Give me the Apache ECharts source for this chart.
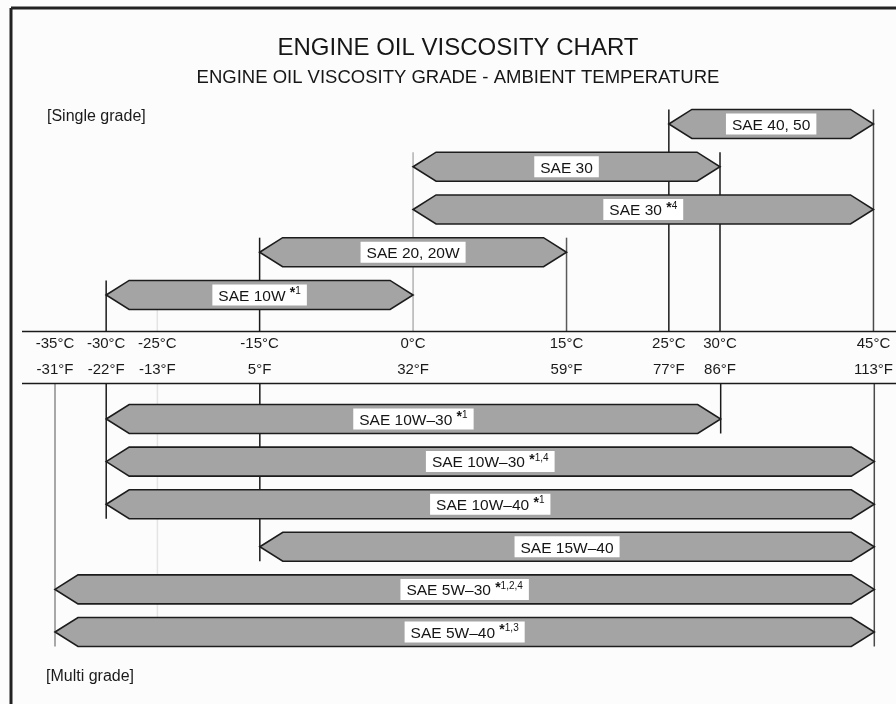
<!DOCTYPE html>
<html>
<head>
<meta charset="utf-8">
<script src="https://cdn.jsdelivr.net/npm/echarts@6/dist/echarts.min.js"></script>
<style>
  html, body { margin: 0; padding: 0; background: #fcfcfc; }
  #chart { width: 896px; height: 704px; }
</style>
</head>
<body>
<div id="chart"></div>
<script>
// Temperature scale (°C ticks and their °F equivalents)
const tempC = [-35, -30, -25, -15, 0, 15, 25, 30, 45];
const tempF = ['-31°F', '-22°F', '-13°F', '5°F', '32°F', '59°F', '77°F', '86°F', '113°F'];
// stroke tone of the vertical guide at each temperature
const guideTone = ['#8c8c8c', '#1a1a1a', '#e4e4e4', '#1a1a1a', '#b2b2b2', '#5a5a5a', '#1a1a1a', '#1a1a1a', '#4a4a4a'];

// Single grade oils: usable ambient range in °C
const singleGrades = ['SAE 40, 50', 'SAE 30', 'SAE 30', 'SAE 20, 20W', 'SAE 10W'];
const singleNotes = ['', '', '4', '', '1'];
const singleFrom = [25, 0, 0, -15, -30];
const singleTo = [45, 30, 45, 15, 0];

// Multi grade oils: usable ambient range in °C
const multiGrades = ['SAE 10W–30', 'SAE 10W–30', 'SAE 10W–40', 'SAE 15W–40', 'SAE 5W–30', 'SAE 5W–40'];
const multiNotes = ['1', '1,4', '1', '', '1,2,4', '1,3'];
const multiFrom = [-30, -30, -30, -15, -35, -35];
const multiTo = [30, 45, 45, 45, 45, 45];

const FONT = "'Liberation Sans', Arial, Helvetica, sans-serif";
const TIP = 23;          // horizontal depth of the arrow heads
const BAR_RATIO = 0.68;  // bar thickness relative to the row band

function rowNames(list) { return list.map((_, i) => 'r' + i); }

function labelText(name, note) {
  return note ? `{t|${name} }{a|*}{s|${note}}` : `{t|${name}}`;
}

function makeArrowRenderer(names, notes) {
  return function (params, api) {
    const row = api.value(2);
    const p0 = api.coord([api.value(0), row]);
    const p1 = api.coord([api.value(1), row]);
    const h = api.size([0, 1])[1] * BAR_RATIO / 2;
    const cy = p0[1];
    const x0 = p0[0], x1 = p1[0];
    return {
      type: 'group',
      children: [
        {
          type: 'polygon',
          shape: { points: [[x0, cy], [x0 + TIP, cy - h], [x1 - TIP, cy - h], [x1, cy], [x1 - TIP, cy + h], [x0 + TIP, cy + h]] },
          style: { fill: '#a4a4a4', stroke: '#1c1c1c', lineWidth: 1.6 }
        },
        {
          type: 'text',
          x: (x0 + x1) / 2,
          y: cy,
          style: {
            text: labelText(names[params.dataIndex], notes[params.dataIndex]),
            align: 'center',
            verticalAlign: 'middle',
            backgroundColor: '#ffffff',
            padding: [2, 6, 1, 6],
            rich: {
              t: { fontFamily: FONT, fontSize: 15.5, lineHeight: 18, fill: '#151515', verticalAlign: 'bottom' },
              a: { fontFamily: FONT, fontSize: 14, fontWeight: 'bold', lineHeight: 12, fill: '#151515', verticalAlign: 'top' },
              s: { fontFamily: FONT, fontSize: 10, lineHeight: 10, fill: '#151515', verticalAlign: 'top' }
            }
          }
        }
      ]
    };
  };
}

// vertical guides: from each range end in the upper block down to the scale,
// and from the scale down to the lowest multi grade bar ending there;
// a temperature no range ends at gets a faint guide through both blocks
function guideData(from, to, pickLast, otherFrom, otherTo) {
  const out = [];
  tempC.forEach((t, i) => {
    let rows = [];
    from.forEach((v, r) => { if (v === t || to[r] === t) rows.push(r); });
    if (!rows.length) {
      if (otherFrom.includes(t) || otherTo.includes(t)) return;
      rows = [from.length - 1];
    }
    const row = pickLast ? rows[rows.length - 1] : rows[0];
    out.push([t, row, i]);
  });
  return out;
}

function makeGuideRenderer(upper) {
  return function (params, api) {
    const p = api.coord([api.value(0), api.value(1)]);
    const h = api.size([0, 1])[1] * BAR_RATIO / 2;
    const cs = params.coordSys;
    const y1 = upper ? p[1] - h : cs.y - 14;
    const y2 = upper ? cs.y + cs.height + 15 : p[1] + h;
    return {
      type: 'line',
      shape: { x1: p[0], y1: y1, x2: p[0], y2: y2 },
      style: { stroke: guideTone[api.value(2)], lineWidth: 1.5 }
    };
  };
}

const chart = echarts.init(document.getElementById('chart'), null, { renderer: 'canvas' });

const option = {
  backgroundColor: '#fcfcfc',
  animation: false,
  title: {
    text: 'ENGINE OIL VISCOSITY CHART',
    subtext: 'ENGINE OIL VISCOSITY GRADE - AMBIENT TEMPERATURE',
    left: 458,
    textAlign: 'center',
    top: 36,
    padding: 0,
    itemGap: 8,
    textStyle: { fontFamily: FONT, fontSize: 24, fontWeight: 'normal', color: '#161616' },
    subtextStyle: { fontFamily: FONT, fontSize: 18.5, color: '#161616' }
  },
  grid: [
    { left: 55, right: 21.7, top: 102.6, height: 213.75 },
    { left: 55, right: 21.7, top: 397.7, height: 255.6 }
  ],
  xAxis: [
    {
      gridIndex: 0, type: 'value', min: -35, max: 45, position: 'bottom', offset: 15,
      axisLine: { show: false }, axisTick: { show: false }, splitLine: { show: false },
      axisLabel: {
        customValues: tempC,
        margin: 0,
        formatter: v => `{c|${v}°C}\n{f|${tempF[tempC.indexOf(v)]}}`,
        rich: {
          c: { fontFamily: FONT, fontSize: 15, lineHeight: 26, color: '#1a1a1a' },
          f: { fontFamily: FONT, fontSize: 15, lineHeight: 26, color: '#1a1a1a' }
        }
      }
    },
    {
      gridIndex: 1, type: 'value', min: -35, max: 45, position: 'top',
      axisLine: { show: false }, axisTick: { show: false }, splitLine: { show: false }, axisLabel: { show: false }
    }
  ],
  yAxis: [
    { gridIndex: 0, type: 'category', inverse: true, data: rowNames(singleGrades), show: false },
    { gridIndex: 1, type: 'category', inverse: true, data: rowNames(multiGrades), show: false }
  ],
  graphic: [
    { type: 'line', shape: { x1: 11, y1: 8, x2: 896, y2: 8 }, style: { stroke: '#222', lineWidth: 3 }, z: 10 },
    { type: 'line', shape: { x1: 11, y1: 8, x2: 11, y2: 704 }, style: { stroke: '#222', lineWidth: 3 }, z: 10 },
    { type: 'line', shape: { x1: 22, y1: 331.5, x2: 896, y2: 331.5 }, style: { stroke: '#1a1a1a', lineWidth: 1.5 }, z: 10 },
    { type: 'line', shape: { x1: 22, y1: 383.5, x2: 896, y2: 383.5 }, style: { stroke: '#1a1a1a', lineWidth: 1.5 }, z: 10 },
    { type: 'text', left: 47, top: 109, style: { text: '[Single grade]', font: `16px ${FONT}`, fill: '#1a1a1a' } },
    { type: 'text', left: 46, top: 669, style: { text: '[Multi grade]', font: `16px ${FONT}`, fill: '#1a1a1a' } }
  ],
  series: [
    {
      type: 'custom', name: 'guides-single', xAxisIndex: 0, yAxisIndex: 0, z: 1, clip: false, silent: true,
      renderItem: makeGuideRenderer(true),
      data: guideData(singleFrom, singleTo, false, multiFrom, multiTo)
    },
    {
      type: 'custom', name: 'guides-multi', xAxisIndex: 1, yAxisIndex: 1, z: 1, clip: false, silent: true,
      renderItem: makeGuideRenderer(false),
      data: guideData(multiFrom, multiTo, true, singleFrom, singleTo)
    },
    {
      type: 'custom', name: 'Single grade', xAxisIndex: 0, yAxisIndex: 0, z: 3, clip: false,
      renderItem: makeArrowRenderer(singleGrades, singleNotes),
      data: singleGrades.map((_, i) => [singleFrom[i], singleTo[i], i])
    },
    {
      type: 'custom', name: 'Multi grade', xAxisIndex: 1, yAxisIndex: 1, z: 3, clip: false,
      renderItem: makeArrowRenderer(multiGrades, multiNotes),
      data: multiGrades.map((_, i) => [multiFrom[i], multiTo[i], i])
    }
  ]
};

chart.setOption(option);
</script>
</body>
</html>
